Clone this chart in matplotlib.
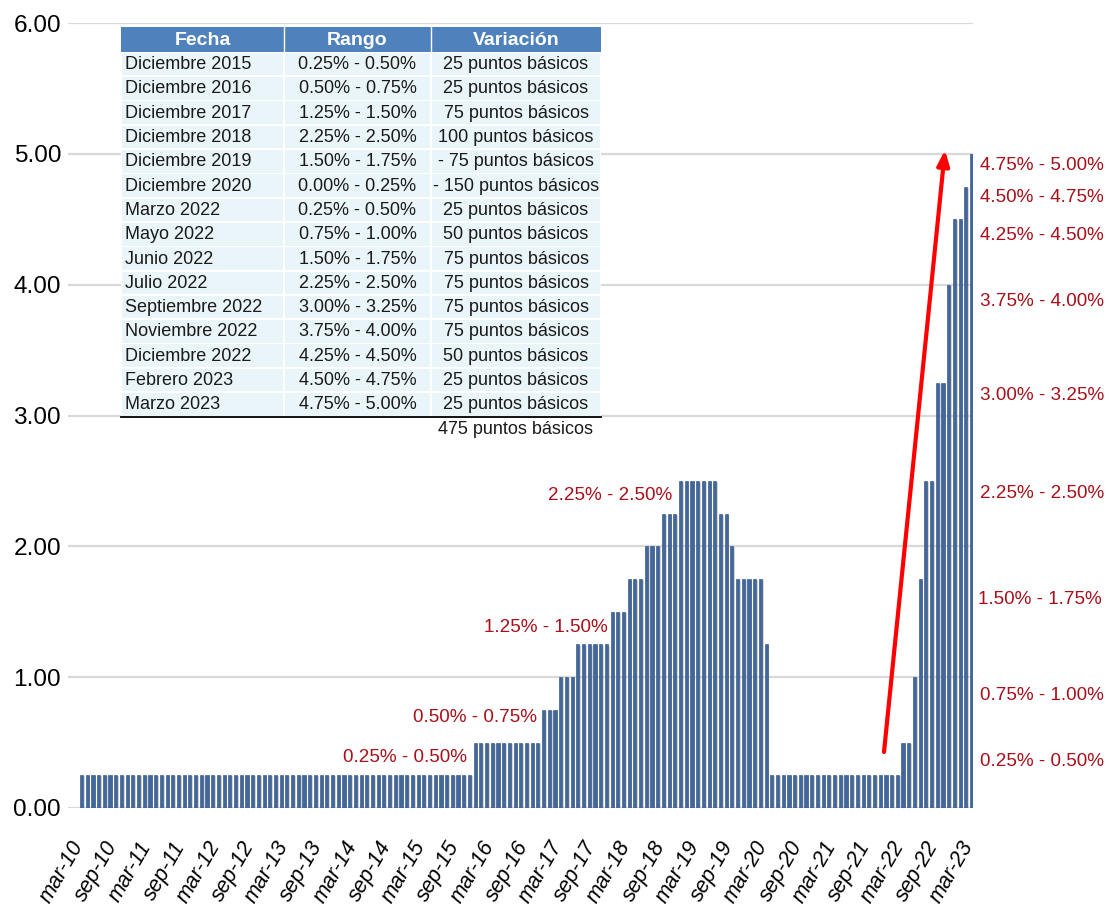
import numpy as np
import matplotlib
matplotlib.use("Agg")
import matplotlib.pyplot as plt
from matplotlib import font_manager
from matplotlib.patches import Rectangle, FancyArrowPatch
from matplotlib.transforms import ScaledTranslation
import matplotlib.patheffects as pe

# ---------------- data ----------------
# Upper bound of the Fed funds target range, monthly, mar-2010 .. mar-2023
rates_2010 = [0.25] * 10                      # mar-dec 2010
rates_2011 = [0.25] * 12
rates_2012 = [0.25] * 12
rates_2013 = [0.25] * 12
rates_2014 = [0.25] * 12
rates_2015 = [0.25] * 11 + [0.50]
rates_2016 = [0.50] * 11 + [0.75]
rates_2017 = [0.75, 0.75, 1.00, 1.00, 1.00, 1.25, 1.25, 1.25, 1.25, 1.25, 1.25, 1.50]
rates_2018 = [1.50, 1.50, 1.75, 1.75, 1.75, 2.00, 2.00, 2.00, 2.25, 2.25, 2.25, 2.50]
rates_2019 = [2.50, 2.50, 2.50, 2.50, 2.50, 2.50, 2.25, 2.25, 2.00, 1.75, 1.75, 1.75]
rates_2020 = [1.75, 1.75, 1.25, 0.25, 0.25, 0.25, 0.25, 0.25, 0.25, 0.25, 0.25, 0.25]
rates_2021 = [0.25] * 12
rates_2022 = [0.25, 0.25, 0.50, 0.50, 1.00, 1.75, 2.50, 2.50, 3.25, 3.25, 4.00, 4.50]
rates_2023 = [4.50, 4.75, 5.00]               # jan-mar 2023
rates = (rates_2010 + rates_2011 + rates_2012 + rates_2013 + rates_2014 + rates_2015
         + rates_2016 + rates_2017 + rates_2018 + rates_2019 + rates_2020 + rates_2021
         + rates_2022 + rates_2023)

tick_labels = ["mar-10", "sep-10", "mar-11", "sep-11", "mar-12", "sep-12", "mar-13",
               "sep-13", "mar-14", "sep-14", "mar-15", "sep-15", "mar-16", "sep-16",
               "mar-17", "sep-17", "mar-18", "sep-18", "mar-19", "sep-19", "mar-20",
               "sep-20", "mar-21", "sep-21", "mar-22", "sep-22", "mar-23"]
y_ticks = [0, 1, 2, 3, 4, 5, 6]

table_header = ["Fecha", "Rango", "Variación"]
fechas = ["Diciembre 2015", "Diciembre 2016", "Diciembre 2017", "Diciembre 2018",
          "Diciembre 2019", "Diciembre 2020", "Marzo 2022", "Mayo 2022", "Junio 2022",
          "Julio 2022", "Septiembre 2022", "Noviembre 2022", "Diciembre 2022",
          "Febrero 2023", "Marzo 2023"]
rangos = ["0.25% - 0.50%", "0.50% - 0.75%", "1.25% - 1.50%", "2.25% - 2.50%",
          "1.50% - 1.75%", "0.00% - 0.25%", "0.25% - 0.50%", "0.75% - 1.00%",
          "1.50% - 1.75%", "2.25% - 2.50%", "3.00% - 3.25%", "3.75% - 4.00%",
          "4.25% - 4.50%", "4.50% - 4.75%", "4.75% - 5.00%"]
variaciones = ["25 puntos básicos", "25 puntos básicos", "75 puntos básicos",
               "100 puntos básicos", "- 75 puntos básicos", "- 150 puntos básicos",
               "25 puntos básicos", "50 puntos básicos", "75 puntos básicos",
               "75 puntos básicos", "75 puntos básicos", "75 puntos básicos",
               "50 puntos básicos", "25 puntos básicos", "25 puntos básicos"]
total_variacion = "475 puntos básicos"

left_labels = ["0.25% - 0.50%", "0.50% - 0.75%", "1.25% - 1.50%", "2.25% - 2.50%"]
right_labels = ["4.75% - 5.00%", "4.50% - 4.75%", "4.25% - 4.50%", "3.75% - 4.00%",
                "3.00% - 3.25%", "2.25% - 2.50%", "1.50% - 1.75%", "0.75% - 1.00%",
                "0.25% - 0.50%"]

# ---------------- fonts ----------------
names = {f.name for f in font_manager.fontManager.ttflist}
if "Liberation Sans Narrow" in names:
    FONT = "Liberation Sans Narrow"
    SC = 1.18
else:
    FONT = "Liberation Sans"
    SC = 1.0
plt.rcParams["font.family"] = [FONT, "DejaVu Sans"]

RED = "#a8101a"
BAR = "#41689e"
BAR_EDGE = "#2a4a78"

W, H = 1109, 911
fig = plt.figure(figsize=(W / 100, H / 100), dpi=100)
fig.patch.set_facecolor("white")

# main axes (pixel box: x 68..973, y 23..808)
ax = fig.add_axes([68 / W, (H - 808) / H, (973 - 68) / W, (808 - 23) / H])
x = np.arange(len(rates))
bars = ax.bar(x, rates, width=0.55, color=BAR, edgecolor=BAR_EDGE, linewidth=0.4,
              zorder=3)
for b in bars:
    b.set_path_effects([pe.SimplePatchShadow(offset=(1.2, -0.8), shadow_rgbFace="#b0b0b0",
                                             alpha=0.5), pe.Normal()])
ax.set_xlim(-2.37, len(rates) - 1 + 0.26)
ax.set_ylim(0, 6)
ax.set_yticks(y_ticks)
ax.set_yticklabels([f"{v:.2f}" for v in y_ticks], fontsize=17.6 * SC)
ax.yaxis.grid(True, color="#d9d9d9", linewidth=1.6, zorder=0)
ax.set_axisbelow(True)
for s in ax.spines.values():
    s.set_visible(False)
ax.tick_params(axis="y", length=0, pad=5)
ax.set_xticks(x[::6])
ax.set_xticklabels(tick_labels, rotation=60, ha="right", va="center",
                   rotation_mode="anchor", fontsize=15.5 * SC, style="italic")
ax.tick_params(axis="x", length=0, pad=25)
for lbl in ax.get_xticklabels():
    lbl.set_transform(lbl.get_transform() + ScaledTranslation(-3 / 100, 0,
                                                              fig.dpi_scale_trans))

# overlay axes in pixel coordinates for table, annotations and arrow
ov = fig.add_axes([0, 0, 1, 1])
ov.set_xlim(0, W)
ov.set_ylim(H, 0)
ov.axis("off")

# ---- table ----
col_x = [121, 284, 431, 601]
head_top, head_bot = 27, 52
row_h = 24.3
TXT = "#1a1a1a"
bot = head_bot + len(fechas) * row_h
ov.add_patch(Rectangle((col_x[0], head_top), col_x[3] - col_x[0], bot - head_top,
                       facecolor="white", edgecolor="none"))
ov.add_patch(Rectangle((col_x[0], head_top), col_x[3] - col_x[0], head_bot - head_top,
                       facecolor="#4f81bd", edgecolor="none"))
for c in (1, 2):
    ov.plot([col_x[c], col_x[c]], [head_top, head_bot], color="white", lw=1.0)
for c, htxt in enumerate(table_header):
    ov.text((col_x[c] + col_x[c + 1]) / 2, (head_top + head_bot) / 2 + 1, htxt,
            ha="center", va="center", color="white", fontsize=14 * SC,
            fontweight="bold")
for r in range(len(fechas)):
    y0 = head_bot + r * row_h
    for c in range(3):
        ov.add_patch(Rectangle((col_x[c] + 0.8, y0 + 0.8), col_x[c + 1] - col_x[c] - 1.6,
                               row_h - 1.6, facecolor="#e9f5f8", edgecolor="none"))
    yc = y0 + row_h / 2 + 0.5
    ov.text(col_x[0] + 4, yc, fechas[r], ha="left", va="center", color=TXT,
            fontsize=13 * SC)
    ov.text((col_x[1] + col_x[2]) / 2, yc, rangos[r], ha="center", va="center",
            color=TXT, fontsize=13 * SC)
    ov.text((col_x[2] + col_x[3]) / 2, yc, variaciones[r], ha="center", va="center",
            color=TXT, fontsize=13 * SC)
ov.plot([col_x[0], col_x[3]], [bot, bot], color="black", lw=1.3)
ov.text((col_x[2] + col_x[3]) / 2, bot + 13, total_variacion, ha="center", va="center",
        color=TXT, fontsize=13 * SC)

# ---- red annotations ----
left_pos = [(405, 757), (475, 718), (546, 627), (610, 495)]
for (px, py), t in zip(left_pos, left_labels):
    ov.text(px, py, t, ha="center", va="center", color=RED, fontsize=13.6 * SC)
right_y = [165, 197, 235, 302, 396, 494, 600, 695, 762]
right_x = [980, 980, 980, 980, 980, 980, 978, 980, 980]
for px, py, t in zip(right_x, right_y, right_labels):
    ov.text(px, py, t, ha="left", va="center", color=RED, fontsize=13.6 * SC)

# ---- arrow ----
arr = FancyArrowPatch((884, 752), (945, 150),
                      arrowstyle="-|>,head_length=9,head_width=3.6",
                      color="#ff0000", lw=3.0, mutation_scale=1.0, shrinkA=0, shrinkB=0)
ov.add_patch(arr)

fig.savefig("out.png", dpi=100, facecolor="white")
